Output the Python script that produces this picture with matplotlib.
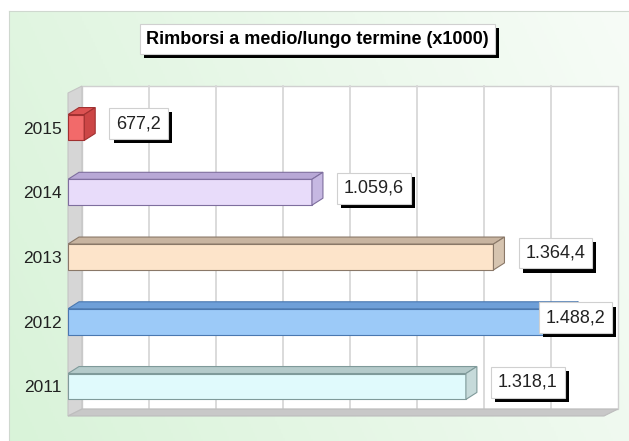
import numpy as np
import matplotlib
matplotlib.use("Agg")
import matplotlib.pyplot as plt
from matplotlib.patches import Polygon, Rectangle
from matplotlib.colors import LinearSegmentedColormap
import matplotlib.patheffects as pe

plt.rcParams['font.family'] = ['Liberation Sans', 'DejaVu Sans']

# data
years = ['2011', '2012', '2013', '2014', '2015']
values = [1318.1, 1488.2, 1364.4, 1059.6, 677.2]
front_colors = ['#e0fafc', '#9ccaf8', '#fde4ca', '#e8dcfa', '#f26a6a']
top_colors = ['#b4caca', '#6e9fd8', '#c8b4a0', '#b8a8d6', '#dc5252']
side_colors = ['#c6dada', '#84b2e6', '#d6c4b0', '#c6b8e2', '#cc4646']
edge_colors = ['#7f9a9a', '#4a78b0', '#8a7868', '#7e6e9e', '#a03030']
title = 'Rimborsi a medio/lungo termine (x1000)'

xmin, xmax = 650, 1550
ylo, yhi = -0.456, 4.533

W, H = 629, 441
fig = plt.figure(figsize=(W / 100, H / 100), dpi=100)

# green background panel
bg = fig.add_axes([9 / W, 0, 1 - 9 / W, (H - 11) / H])
gx = np.linspace(0, 1, 300)
gy = np.linspace(0, 1, 200)
GX, GY = np.meshgrid(gx, gy)
grad = 0.75 * GX + 0.25 * GY
cmap = LinearSegmentedColormap.from_list('g', ['#d9f3d9', '#f7fcf7'])
bg.imshow(grad, aspect='auto', cmap=cmap, extent=[0, 1, 0, 1], origin='lower')
bg.set_xticks([])
bg.set_yticks([])
for s in ['right', 'bottom']:
    bg.spines[s].set_visible(False)
for s in ['top', 'left']:
    bg.spines[s].set_color('#cfd8cf')

# chart axes (front plane)
ax = fig.add_axes([68 / W, (H - 416) / H, 536 / W, (416 - 93) / H])
ax.set_xlim(xmin, xmax)
ax.set_ylim(ylo, yhi)
ax.patch.set_visible(False)
for s in ax.spines.values():
    s.set_visible(False)

pxx = (xmax - xmin) / 536.0
pxy = (yhi - ylo) / 323.0
dxw, dyw = 14 * pxx, 7 * pxy
dxb, dyb = 11 * pxx, 7 * pxy

# back wall
ax.add_patch(Rectangle((xmin + dxw, ylo + dyw), xmax - xmin, yhi - ylo,
                       fc='white', ec='#d0d0d0', lw=1, clip_on=False, zorder=0))
# left wall
ax.add_patch(Polygon([(xmin, ylo), (xmin + dxw, ylo + dyw), (xmin + dxw, yhi + dyw), (xmin, yhi)],
                     closed=True, fc='#d6d6d6', ec='#c4c4c4', lw=0.8, clip_on=False, zorder=0.5))
# floor
ax.add_patch(Polygon([(xmin, ylo), (xmax, ylo), (xmax + dxw, ylo + dyw), (xmin + dxw, ylo + dyw)],
                     closed=True, fc='#c8c8c8', ec='#bdbdbd', lw=0.8, clip_on=False, zorder=0.5))
# grid lines on back wall
step = (xmax - xmin) / 8
for k in range(1, 8):
    gxk = xmin + k * step + dxw
    ax.plot([gxk, gxk], [ylo + dyw, yhi + dyw], color='#d8d8d8', lw=1.3, zorder=0.3, clip_on=False)

# bars
h = 0.40
ypos = np.arange(len(years))
widths = [v - xmin for v in values]
ax.barh(ypos, widths, left=xmin, height=h, color=front_colors, edgecolor=edge_colors,
        linewidth=0.8, zorder=3)
for i, v in enumerate(values):
    y = ypos[i]
    top = [(xmin, y + h / 2), (v, y + h / 2), (v + dxb, y + h / 2 + dyb), (xmin + dxb, y + h / 2 + dyb)]
    side = [(v, y - h / 2), (v + dxb, y - h / 2 + dyb), (v + dxb, y + h / 2 + dyb), (v, y + h / 2)]
    ax.add_patch(Polygon(top, closed=True, fc=top_colors[i], ec=edge_colors[i], lw=0.8, zorder=3))
    ax.add_patch(Polygon(side, closed=True, fc=side_colors[i], ec=edge_colors[i], lw=0.8, zorder=3))

ax.set_yticks(ypos)
ax.set_yticklabels(years, fontsize=12.5, color='#222222')
ax.set_xticks([])
ax.tick_params(axis='y', length=0, pad=4.5)


def it_fmt(v):
    s = f"{v:,.1f}"
    return s.replace(',', 'X').replace('.', ',').replace('X', '.')


shadow = [pe.SimplePatchShadow(offset=(3, -3), shadow_rgbFace='black', alpha=1.0), pe.Normal()]

labels = []
for i, v in enumerate(values):
    t = ax.text(v + 32 * pxx, ypos[i] + 4 * pxy, it_fmt(v), ha='left', va='center',
                fontsize=13, color='#222222', zorder=5,
                bbox=dict(boxstyle='square,pad=0.38', fc='white', ec='#d0d0d0', lw=0.8))
    t.get_bbox_patch().set_path_effects(shadow)
    labels.append(t)

tt = fig.text(317.5 / W, 1 - 39 / H, title, ha='center', va='center', fontsize=13,
              fontweight='bold', color='black',
              bbox=dict(boxstyle='square,pad=0.36', fc='white', ec='#d0d0d0', lw=0.8))
tt.get_bbox_patch().set_path_effects(shadow)

# keep labels inside the plot
fig.canvas.draw()
limit = 612
for t in labels:
    ext = t.get_bbox_patch().get_window_extent()
    if ext.x1 > limit:
        shift = (ext.x1 - limit) * pxx
        x, y = t.get_position()
        t.set_position((x - shift, y))

fig.savefig('out.png', dpi=100)
